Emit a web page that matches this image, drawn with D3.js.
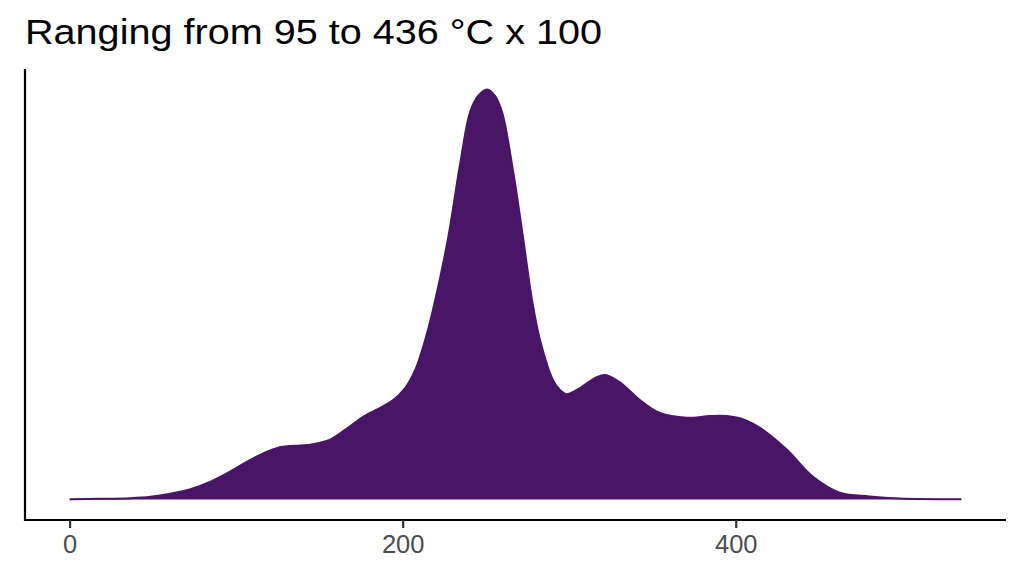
<!DOCTYPE html>
<html>
<head>
<meta charset="utf-8">
<script src="https://cdn.jsdelivr.net/npm/d3@7"></script>
<style>
  body { margin: 0; background: #fff; }
  svg { display: block; }
</style>
</head>
<body>
<svg id="canvas" width="1024" height="576"></svg>
<script>
// temperature (x100) and estimated density (x1e-3)
var temps   = [0, 18.6, 36.6, 48.6, 60.6, 72.6, 84.6, 96.6, 108.5, 124.7, 144.5, 156.5, 165.5, 176.3, 186.5, 194.3, 201.5, 207.5, 213.5, 219.5, 227.3, 234.5, 240.5, 245.3, 250.7, 255.5, 259.7, 266.3, 272.3, 277.7, 282.5, 290.3, 294.5, 298.7, 306.5, 315.4, 321.4, 330.4, 342.4, 354.4, 370.6, 384.4, 394.6, 405.4, 414.4, 430.6, 446.2, 462.4, 480.4, 498.4, 535.5];
var density = [0.01, 0.02, 0.04, 0.08, 0.17, 0.30, 0.52, 0.82, 1.16, 1.51, 1.60, 1.75, 2.04, 2.42, 2.68, 2.91, 3.26, 3.78, 4.66, 5.82, 7.65, 9.81, 11.33, 11.80, 11.99, 11.80, 11.32, 9.60, 7.65, 5.82, 4.66, 3.49, 3.20, 3.08, 3.26, 3.55, 3.64, 3.43, 2.91, 2.53, 2.39, 2.44, 2.44, 2.33, 2.10, 1.46, 0.67, 0.20, 0.09, 0.03, 0.01];
var xTicks = [0, 200, 400];
var title = 'Ranging from 95 to 436 °C x 100';

var fillColor = '#481567';
var fontFamily = '"Liberation Sans", Arial, sans-serif';

// ************************************************************************************************** //
// Panel

var panel = { left: 25, right: 1006, top: 69, bottom: 520 };
var svg = d3.select('#canvas');

var xMin = d3.min(temps), xMax = d3.max(temps);
var xPad = 0.05*(xMax-xMin);
var xScale = d3.scaleLinear().domain([xMin-xPad, xMax+xPad]).range([panel.left, panel.right]);

var yMax = d3.max(density);
var yScale = d3.scaleLinear().domain([-0.05*yMax, 1.05*yMax]).range([panel.bottom, panel.top]);

var data = temps.map((t,i) => { return { x: t, y: density[i] } });

// ************************************************************************************************** //
// Density area

var curve = d3.curveCatmullRom.alpha(0.5);
var area_gen = d3.area().x(d => xScale(d.x)).y0(yScale(0)).y1(d => yScale(d.y)).curve(curve);
var line_gen = d3.line().x(d => xScale(d.x)).y(d => yScale(d.y)).curve(curve);

svg.append('path').attr('d', area_gen(data)).style('fill', fillColor);
svg.append('path').attr('d', line_gen(data)).style('fill', 'none').style('stroke', fillColor).style('stroke-width', 2);

// ************************************************************************************************** //
// Axes

var xAxis = svg.append('g').attr('transform', 'translate(0,' + panel.bottom + ')')
  .call(d3.axisBottom(xScale).tickValues(xTicks).tickSize(8).tickPadding(0).tickFormat(d3.format('d')));
xAxis.select('.domain').attr('d', 'M' + panel.left + ',0H' + panel.right).style('stroke', '#000').style('stroke-width', 2.2);
xAxis.selectAll('.tick line').style('stroke', '#333').style('stroke-width', 2.2);
xAxis.selectAll('.tick text')
  .attr('y', 33).attr('dy', 0)
  .style('font-family', fontFamily)
  .style('font-size', '25.5px')
  .style('fill', '#4d4d4d');

svg.append('line')
  .attr('x1', panel.left).attr('x2', panel.left)
  .attr('y1', panel.top).attr('y2', panel.bottom + 1)
  .style('stroke', '#000').style('stroke-width', 2.2);

// ************************************************************************************************** //
// Title

svg.append('text')
  .attr('x', 25).attr('y', 43.5)
  .attr('textLength', 577).attr('lengthAdjust', 'spacingAndGlyphs')
  .style('font-family', fontFamily)
  .style('font-size', '35.5px')
  .style('fill', '#000')
  .text(title);
</script>
</body>
</html>
